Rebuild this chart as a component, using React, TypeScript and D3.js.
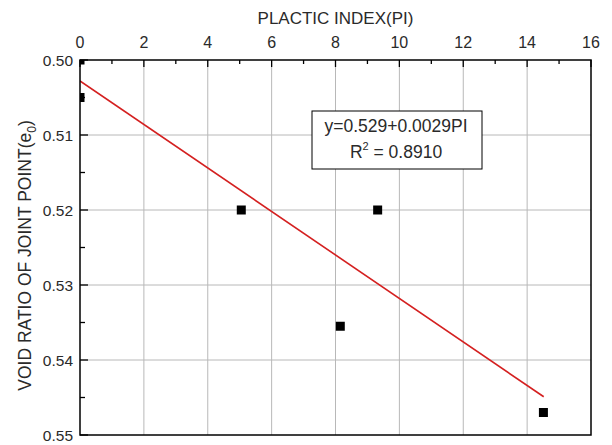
import React from "react";
import * as d3 from "d3";

const width = 612;
const height = 445;
const margin = { top: 60, right: 21, bottom: 10, left: 80 };

// measured points (plastic index vs void ratio of joint point)
const piValues = [0, 0, 5.05, 9.32, 8.15, 14.51];
const e0Values = [0.5, 0.505, 0.52, 0.52, 0.5355, 0.547];

// fitted line end points
const fitX = [0, 14.52];
const fitY = [0.5028, 0.5449];

const xTicks = [0, 2, 4, 6, 8, 10, 12, 14, 16];
const yTicks = [0.5, 0.51, 0.52, 0.53, 0.54, 0.55];

const eqLines = ["y=0.529+0.0029PI", "R"];

export default function App() {
  const innerW = width - margin.left - margin.right;
  const innerH = height - margin.top - margin.bottom;
  const x = d3.scaleLinear().domain([0, 16]).range([margin.left, margin.left + innerW]);
  const y = d3.scaleLinear().domain([0.5, 0.55]).range([margin.top, margin.top + innerH]);

  const xMinor = d3.range(1, 16, 2);
  const yMinor = d3.range(0, 5).map(i => 0.505 + i * 0.01);
  const line = d3.line<number>().x((d, i) => x(fitX[i])).y((d, i) => y(fitY[i]));
  const font = "Liberation Sans, Arial, sans-serif";
  const txt = "#2a2a2a";

  return (
    <svg width={width} height={height} style={{ position: "absolute", left: 0, top: 0 }} fontFamily={font}>
      <rect width={width} height={height} fill="white" />
      <defs>
        <clipPath id="plot">
          <rect x={margin.left} y={margin.top} width={innerW} height={innerH} />
        </clipPath>
      </defs>
      {/* grid */}
      {xTicks.slice(1, -1).map(t => (
        <line key={"gx" + t} x1={x(t)} x2={x(t)} y1={margin.top} y2={margin.top + innerH} stroke="#b8b8b8" />
      ))}
      {yTicks.slice(1, -1).map(t => (
        <line key={"gy" + t} x1={margin.left} x2={margin.left + innerW} y1={y(t)} y2={y(t)} stroke="#b8b8b8" />
      ))}
      {/* ticks */}
      {xTicks.map(t => (
        <line key={"tx" + t} x1={x(t)} x2={x(t)} y1={margin.top} y2={margin.top + 7} stroke="black" strokeWidth={1.3} />
      ))}
      {xMinor.map(t => (
        <line key={"mx" + t} x1={x(t)} x2={x(t)} y1={margin.top} y2={margin.top + 4} stroke="black" strokeWidth={1.3} />
      ))}
      {yTicks.map(t => (
        <line key={"ty" + t} x1={margin.left} x2={margin.left + 8} y1={y(t)} y2={y(t)} stroke="black" strokeWidth={1.3} />
      ))}
      {yMinor.map(t => (
        <line key={"my" + t} x1={margin.left} x2={margin.left + 5} y1={y(t)} y2={y(t)} stroke="black" strokeWidth={1.3} />
      ))}
      {/* fit line */}
      <path d={line(fitX) || ""} fill="none" stroke="#d42020" strokeWidth={1.6} clipPath="url(#plot)" />
      {/* points */}
      <g clipPath="url(#plot)">
        {piValues.map((v, i) => (
          <rect key={"p" + i} x={x(v) - 4.5} y={y(e0Values[i]) - 4.5} width={9} height={9} fill="black" />
        ))}
      </g>
      {/* frame */}
      <rect x={margin.left} y={margin.top} width={innerW} height={innerH} fill="none" stroke="black" strokeWidth={1.5} />
      {/* tick labels */}
      {xTicks.map(t => (
        <text key={"lx" + t} x={x(t)} y={margin.top - 12} textAnchor="middle" fontSize={16} fill={txt}>{t}</text>
      ))}
      {yTicks.map(t => (
        <text key={"ly" + t} x={margin.left - 7} y={y(t) + 5.5} textAnchor="end" fontSize={15.5} fill={txt}>{t.toFixed(2)}</text>
      ))}
      {/* axis titles */}
      <text x={x(8)} y={24} textAnchor="middle" fontSize={17} fill={txt}>PLACTIC INDEX(PI)</text>
      <text transform={`translate(31,${(margin.top + margin.top + innerH) / 2 + 8}) rotate(-90)`} textAnchor="middle" fontSize={17.5} fill={txt}>
        VOID RATIO OF JOINT POINT(e<tspan fontSize={12} dy={5}>0</tspan><tspan dy={-5}>)</tspan>
      </text>
      {/* equation box */}
      <rect x={312} y={111} width={170} height={58} fill="white" stroke="black" strokeWidth={1} />
      <text x={396} y={132} textAnchor="middle" fontSize={17.5} fill={txt}>{eqLines[0]}</text>
      <text x={396} y={158} textAnchor="middle" fontSize={17.5} fill={txt}>
        {eqLines[1]}<tspan fontSize={11} dy={-8}>2</tspan><tspan dy={8}> = 0.8910</tspan>
      </text>
    </svg>
  );
}
